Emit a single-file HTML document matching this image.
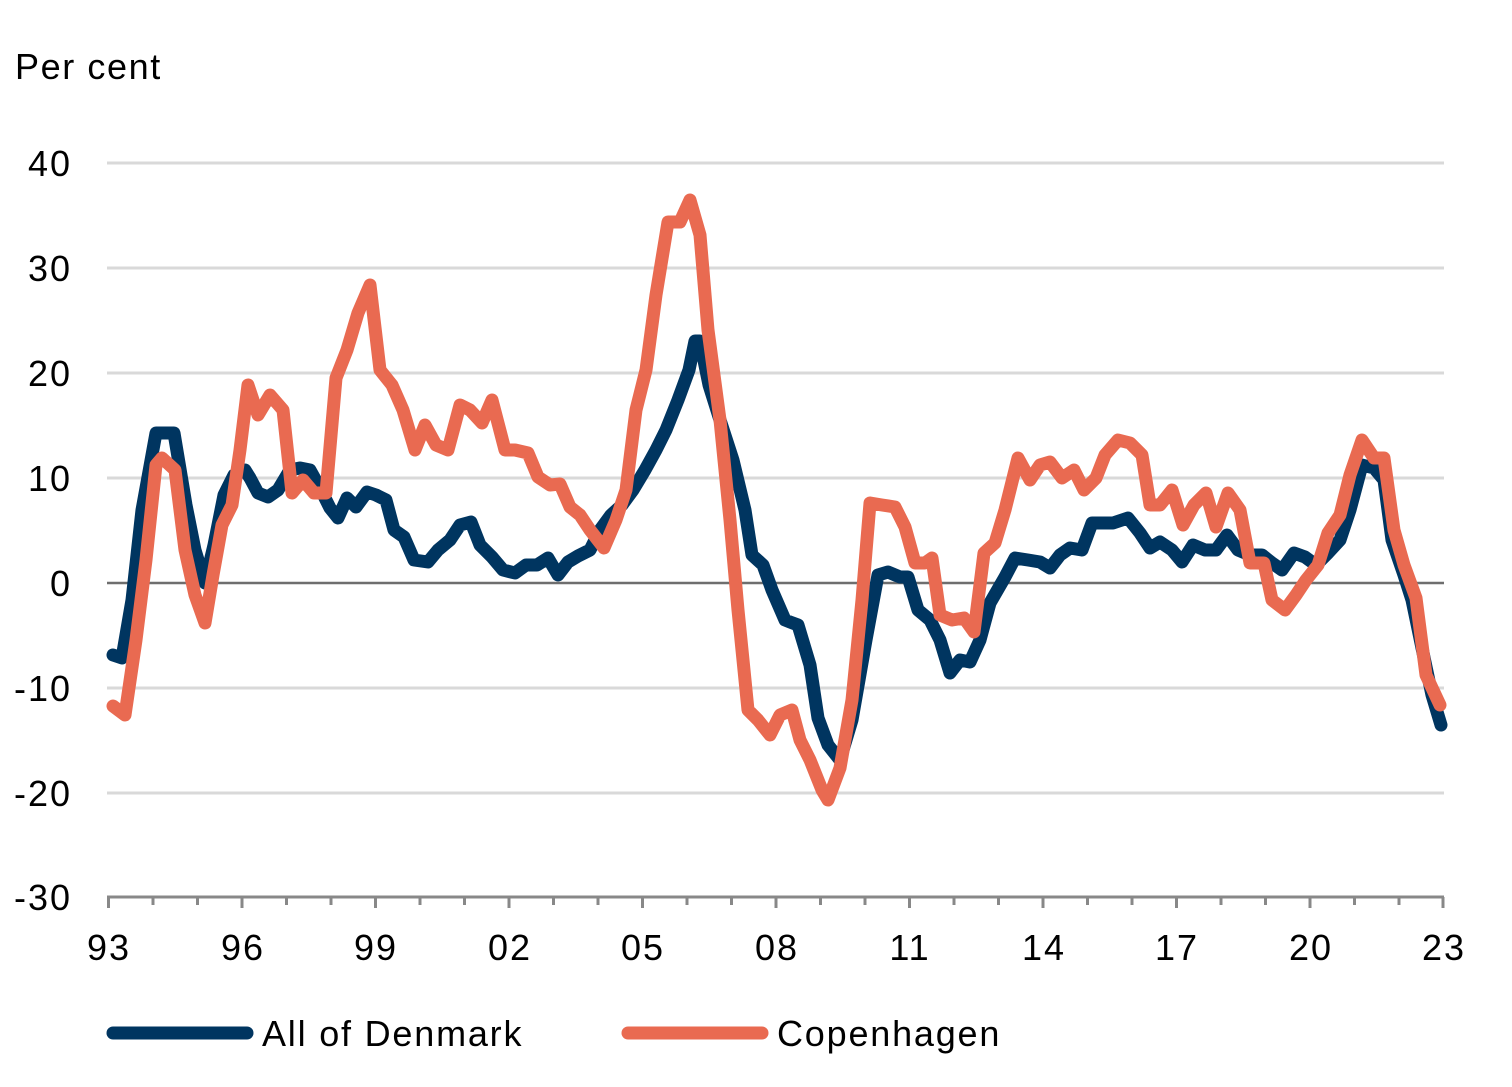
<!DOCTYPE html>
<html><head><meta charset="utf-8"><style>
html,body{margin:0;padding:0;background:#fff;}
svg{display:block;}
text{font-family:"Liberation Sans",sans-serif;fill:#000;}
</style></head><body>
<svg width="1512" height="1087" viewBox="0 0 1512 1087" xmlns="http://www.w3.org/2000/svg">
<text x="15" y="79" font-size="36" letter-spacing="1.6">Per cent</text>
<g stroke="#d9d9d9" stroke-width="3">
<line x1="107" y1="163" x2="1444" y2="163"/>
<line x1="107" y1="268" x2="1444" y2="268"/>
<line x1="107" y1="373" x2="1444" y2="373"/>
<line x1="107" y1="478" x2="1444" y2="478"/>
<line x1="107" y1="688" x2="1444" y2="688"/>
<line x1="107" y1="793" x2="1444" y2="793"/>
</g>
<line x1="107" y1="583" x2="1444" y2="583" stroke="#6e6e6e" stroke-width="2.5"/>
<g font-size="36" text-anchor="end" letter-spacing="2">
<text x="72" y="176">40</text>
<text x="72" y="281">30</text>
<text x="72" y="386">20</text>
<text x="72" y="491">10</text>
<text x="72" y="596">0</text>
<text x="72" y="701">-10</text>
<text x="72" y="806">-20</text>
<text x="72" y="910">-30</text>
</g>
<g stroke="#888" stroke-width="3" fill="none">
<line x1="107" y1="897" x2="1444" y2="897"/>
<path d="M108.5 897v11 M153 897v8 M197.5 897v8 M242 897v11 M286.5 897v8 M331 897v8 M375.5 897v11 M420 897v8 M464.5 897v8 M509 897v11 M553.5 897v8 M598 897v8 M642.5 897v11 M687 897v8 M731.5 897v8 M776 897v11 M820.5 897v8 M865 897v8 M909.5 897v11 M954 897v8 M998.5 897v8 M1043 897v11 M1087.5 897v8 M1132 897v8 M1176.5 897v11 M1221 897v8 M1265.5 897v8 M1310 897v11 M1354.5 897v8 M1399 897v8 M1443 897v11"/>
</g>
<g font-size="36" text-anchor="middle" letter-spacing="2">
<text x="109" y="960">93</text><text x="243" y="960">96</text><text x="376" y="960">99</text>
<text x="510" y="960">02</text><text x="643" y="960">05</text><text x="777" y="960">08</text>
<text x="910" y="960">11</text><text x="1044" y="960">14</text><text x="1177" y="960">17</text>
<text x="1311" y="960">20</text><text x="1444" y="960">23</text>
</g>
<polyline fill="none" stroke="#003560" stroke-width="13" stroke-linejoin="round" stroke-linecap="round" points="113,655 122,658 132,600 142,510 156,433 167,433 174,433 186,505 195,550 205,583 214,545 224,495 234,475 245,470 250,478 258,493 268,497 278,490 290,470 300,468 310,470 320,488 330,508 338,518 347,498 356,507 367,492 376,495 386,500 394,530 404,537 414,560 428,562 438,550 450,540 460,525 471,522 480,545 492,557 503,570 515,573 526,565 537,565 548,558 558,575 568,562 578,556 590,550 600,530 611,515 622,505 633,490 645,470 656,450 666,430 678,400 689,370 695,341 700,341 709,385 720,420 733,460 745,510 752,555 763,565 772,590 785,620 790,622 798,625 810,665 818,718 828,745 840,760 852,720 866,640 878,575 888,572 900,577 908,577 918,610 930,620 940,640 950,673 960,660 970,662 980,640 990,603 1005,577 1015,558 1028,560 1040,562 1050,568 1060,555 1070,548 1082,550 1092,523 1100,523 1113,523 1128,518 1140,533 1150,548 1160,542 1172,550 1182,562 1193,545 1205,550 1216,550 1227,535 1238,550 1250,555 1262,555 1272,563 1282,570 1294,553 1305,557 1316,565 1328,553 1340,540 1350,510 1362,465 1374,468 1384,480 1392,540 1404,575 1412,600 1422,648 1432,695 1441,725"/>
<polyline fill="none" stroke="#e96a51" stroke-width="13" stroke-linejoin="round" stroke-linecap="round" points="113,706 125,715 136,640 146,560 156,465 162,458 175,470 185,550 195,595 205,623 213,575 222,525 232,505 240,450 248,385 258,415 270,395 283,410 292,493 303,480 314,493 326,493 336,378 347,350 358,313 370,285 380,370 392,385 403,410 415,450 425,425 436,445 448,450 460,405 470,410 482,423 492,400 505,450 515,450 528,453 538,477 550,485 560,484 570,507 580,515 590,530 604,548 616,520 626,490 636,410 646,370 656,295 668,222 680,222 690,200 700,235 708,330 720,420 730,520 738,610 748,710 758,720 770,735 780,715 792,710 800,740 810,760 822,790 828,800 840,768 852,700 862,600 870,503 882,505 895,507 905,527 915,563 925,563 932,558 940,615 952,620 964,618 974,632 984,553 995,543 1005,510 1018,458 1030,480 1040,465 1050,462 1062,478 1074,470 1084,490 1096,478 1105,455 1118,440 1130,443 1142,455 1150,505 1160,505 1172,490 1183,525 1194,505 1206,493 1216,527 1228,493 1240,510 1250,563 1264,563 1272,600 1285,610 1296,595 1306,580 1318,565 1328,533 1340,515 1350,475 1362,440 1374,458 1384,458 1394,530 1404,565 1416,598 1426,675 1440,705"/>
<line x1="113" y1="1033" x2="247" y2="1033" stroke="#003560" stroke-width="13" stroke-linecap="round"/>
<text x="262" y="1046" font-size="36" letter-spacing="1.8">All of Denmark</text>
<line x1="628" y1="1033" x2="762" y2="1033" stroke="#e96a51" stroke-width="13" stroke-linecap="round"/>
<text x="777" y="1046" font-size="36" letter-spacing="1.8">Copenhagen</text>
</svg>
</body></html>
